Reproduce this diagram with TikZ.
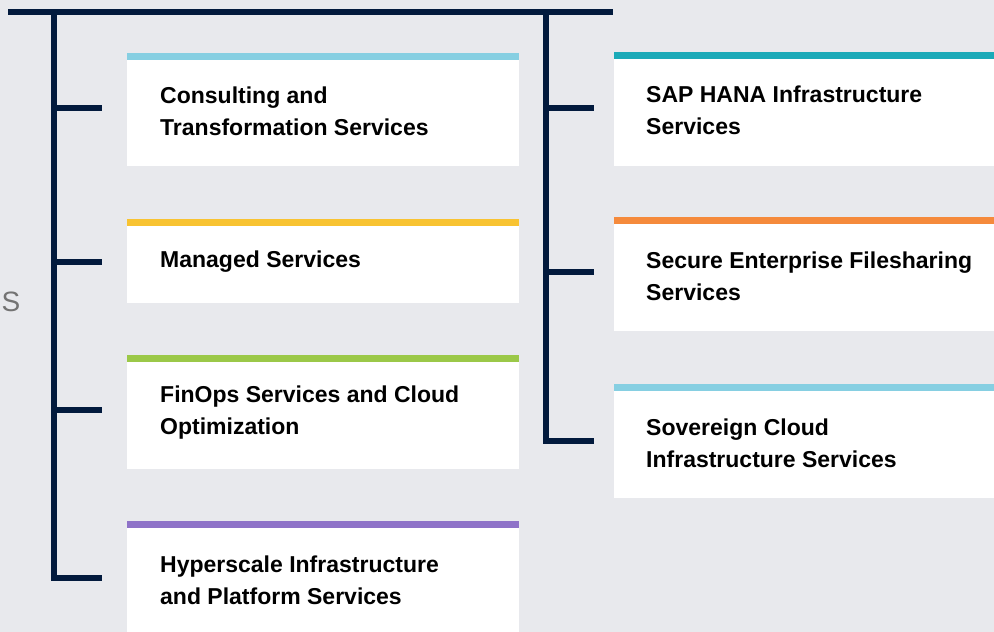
\documentclass[tikz,border=0pt]{standalone}
\usepackage{fontspec}
\setmainfont{Liberation Sans}
\usepackage{xcolor}
\usepackage{tikz}

\definecolor{bgray}{HTML}{E8E9ED}
\definecolor{navy}{HTML}{021A3D}
\definecolor{skyblue}{HTML}{86CFE2}
\definecolor{sunyellow}{HTML}{F8C332}
\definecolor{leafgreen}{HTML}{9BC848}
\definecolor{lavender}{HTML}{8E72C8}
\definecolor{teal}{HTML}{1BAAB8}
\definecolor{tangerine}{HTML}{F58A3C}

\begin{document}
\begin{tikzpicture}[x=1pt,y=-1pt,
		trunk/.style={line width=5.5pt,draw=navy,line cap=butt,line join=miter},
		svc/.style={anchor=west,inner sep=0pt,align=left,
			font=\fontsize{23}{32}\selectfont\bfseries,text=black}]
			\useasboundingbox (0,0) rectangle (994,632);
			\fill[bgray] (0,0) rectangle (994,632);
			% left column
			\fill[white] (127,53) rectangle (519,166);
			\fill[skyblue] (127,53) rectangle (519,60);
			\node[svc] (consult) at (160,111) {Consulting and\\Transformation Services};
			\fill[white] (127,219) rectangle (519,303);
			\fill[sunyellow] (127,219) rectangle (519,226);
			\node[svc] (managed) at (160,262) {Managed Services};
			\fill[white] (127,355) rectangle (519,469);
			\fill[leafgreen] (127,355) rectangle (519,362);
			\node[svc] (finops) at (160,413) {FinOps Services and Cloud\\Optimization};
			\fill[white] (127,521) rectangle (519,632);
			\fill[lavender] (127,521) rectangle (519,528);
			\node[svc] (hyper) at (160,580) {Hyperscale Infrastructure\\and Platform Services};
			% right column
			\fill[white] (614,52) rectangle (994,166);
			\fill[teal] (614,52) rectangle (994,59);
			\node[svc] (hana) at (646,110) {SAP HANA Infrastructure\\Services};
			\fill[white] (614,217) rectangle (994,331);
			\fill[tangerine] (614,217) rectangle (994,224);
			\node[svc] (filesharing) at (646,276) {Secure Enterprise Filesharing\\Services};
			\fill[white] (614,384) rectangle (994,498);
			\fill[skyblue] (614,384) rectangle (994,391);
			\node[svc] (sovereign) at (646,443) {Sovereign Cloud\\Infrastructure Services};
			% tree
			\coordinate (topl) at (8,12);
			\coordinate (topr) at (613,12);
			\coordinate (lroot) at (54,12);
			\coordinate (rroot) at (546,12);
			\coordinate (l1) at (54,108);
			\coordinate (l2) at (54,262);
			\coordinate (l3) at (54,410);
			\coordinate (l4) at (54,578);
			\coordinate (r1) at (546,108);
			\coordinate (r2) at (546,272);
			\coordinate (r3) at (546,441);
			\draw[trunk] (topl) -- (topr);
			\draw[trunk] (lroot) -- (l4) -- ++(48,0);
			\draw[trunk] (rroot) -- (r3) -- ++(48,0);
			\draw[trunk] (l1) -- ++(48,0);
			\draw[trunk] (l2) -- ++(48,0);
			\draw[trunk] (l3) -- ++(48,0);
			\draw[trunk] (r1) -- ++(48,0);
			\draw[trunk] (r2) -- ++(48,0);
			\node[text=black!55,font=\fontsize{28}{28}\selectfont] (cut) at (11,302) {S};
		\end{tikzpicture}
\end{document}
